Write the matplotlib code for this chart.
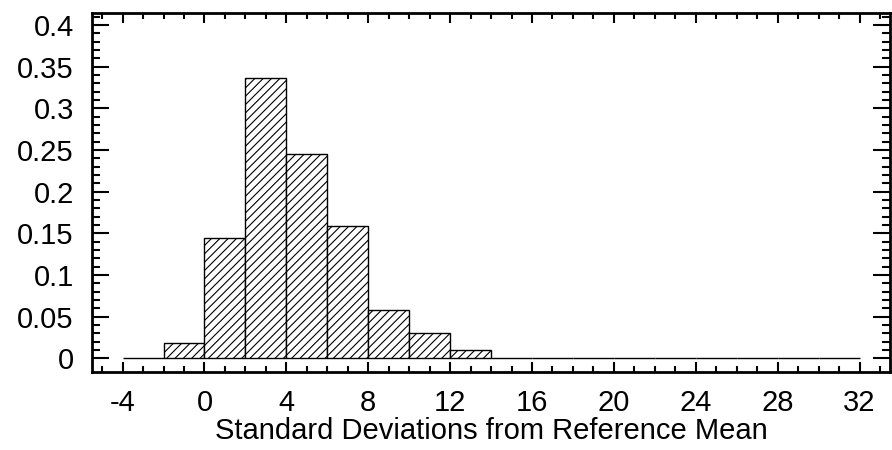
import matplotlib.pyplot as plt
import numpy as np

plt.rcParams['font.family'] = ['Liberation Sans', 'DejaVu Sans']
plt.rcParams['axes.unicode_minus'] = False
plt.rcParams['hatch.linewidth'] = 0.8

# bin edges (standard deviations) and fraction per bin
edges = np.arange(-4, 34, 2)
fractions = [0.0, 0.018, 0.144, 0.336, 0.245, 0.159, 0.058, 0.030, 0.0096,
             0.0, 0.0, 0.0, 0.0, 0.0, 0.0, 0.0, 0.0, 0.0]
xticks = np.arange(-4, 36, 4)
yticks = np.arange(0, 0.41, 0.05)
ylabels = ["0", "0.05", "0.1", "0.15", "0.2", "0.25", "0.3", "0.35", "0.4"]

fig = plt.figure(figsize=(8.92, 4.5), dpi=100)
ax = fig.add_axes([0.103, 0.173, 0.895, 0.798])

ax.bar(edges[:-1], fractions, width=2, align="edge", color="white",
       edgecolor="black", linewidth=1.0, hatch="////")

ax.set_xlim(-5.5, 33.5)
ax.set_ylim(-0.0168, 0.4144)
ax.set_xticks(xticks)
ax.set_xticks(np.arange(-5, 34, 1), minor=True)
ax.set_yticks(yticks)
ax.set_yticklabels(ylabels)
ax.set_yticks(np.arange(0, 0.411, 0.01), minor=True)

ax.tick_params(axis="both", which="both", direction="in", top=True, right=True,
               labelsize=21, width=1.5)
ax.tick_params(axis="x", which="major", length=7, pad=12)
ax.tick_params(axis="x", which="minor", length=4)
ax.tick_params(axis="y", which="major", length=12, pad=13)
ax.tick_params(axis="y", which="minor", length=6)

for s in ax.spines.values():
    s.set_linewidth(2)

ax.set_xlabel("Standard Deviations from Reference Mean", fontsize=21, labelpad=0)

plt.savefig("out.png", dpi=100)
